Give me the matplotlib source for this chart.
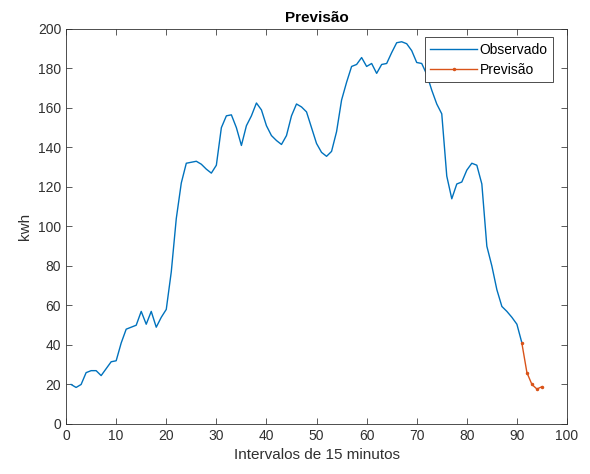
import matplotlib
matplotlib.use('Agg')
import matplotlib.pyplot as plt

plt.rcParams['font.family'] = ['Liberation Sans', 'DejaVu Sans']

# observed series, intervals 1..91
obs_x = list(range(1, 92))
obs_y = [20, 18.5, 20, 26, 27, 27, 24.5, 28, 31.5, 32,
         41, 48, 49, 50, 57, 50.5, 57, 49, 54, 58,
         77, 104, 122, 132, 132.5, 133, 131.5, 129, 127, 131,
         150, 156, 156.5, 150, 141, 151, 156, 162.5, 159, 151,
         146, 143.5, 141.5, 146, 156, 162, 160.5, 158, 150, 142,
         137.5, 135.5, 138, 148, 164, 173, 181, 182, 185.5, 181,
         182.5, 177.5, 182, 182.5, 188, 193, 193.5, 192.5, 189, 183,
         182.5, 177, 169, 162, 157, 125.5, 114, 121.5, 122.5, 128.5,
         132, 131, 121.5, 90, 80, 68, 59.5, 57, 54, 50.5,
         41]

# forecast
prev_x = [91, 92, 93, 94, 95]
prev_y = [40.8, 26, 20, 17.7, 18.9]

fig = plt.figure(figsize=(5.9, 4.74), dpi=100)
ax = fig.add_axes([0.112, 0.1055, 0.849, 0.8335])

ax.plot(obs_x, obs_y, color='#0072BD', lw=1.0, label='Observado')
ax.plot(prev_x, prev_y, color='#D95319', lw=1.0, marker='.', ms=3, label='Previsão')

ax.set_xlim(0, 100)
ax.set_ylim(0, 200)
ax.set_xticks(range(0, 101, 10))
ax.set_yticks(range(0, 201, 20))
ax.tick_params(direction='in', top=True, right=True, length=4, width=0.6,
               labelsize=10, colors='#404040', labelcolor='#303030')
for s in ax.spines.values():
    s.set_linewidth(0.6)
    s.set_color('#303030')

ax.set_xlabel('Intervalos de 15 minutos', fontsize=11, color='#303030')
ax.set_ylabel('kwh', fontsize=11, color='#303030')
ax.set_title('Previsão', fontsize=11, fontweight='bold', pad=5)

leg = ax.legend(loc='upper right', bbox_to_anchor=(553 / 590, 1 - 37 / 474),
                bbox_transform=fig.transFigure, borderaxespad=0,
                fontsize=10, fancybox=False, framealpha=1,
                edgecolor='#303030', handlelength=3.4,
                borderpad=0.4, labelspacing=0.45, handletextpad=0.15)
leg.get_frame().set_linewidth(0.6)

fig.savefig('out.png', dpi=100)
